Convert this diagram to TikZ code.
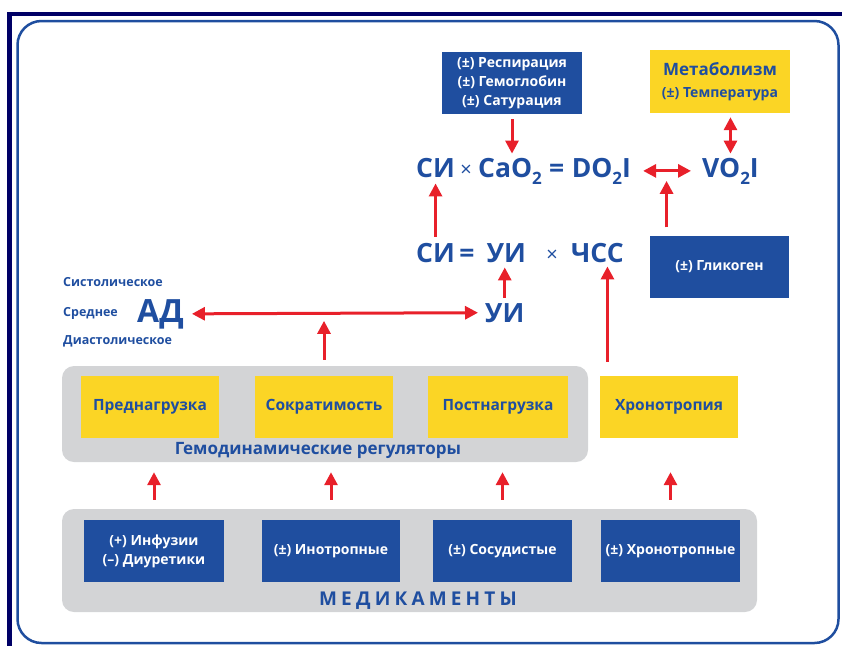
\documentclass[tikz,border=0pt]{standalone}
\usepackage{fontspec}
\setmainfont{Open Sans}
\newfontfamily\spacedfont[LetterSpace=22]{Open Sans}
\usetikzlibrary{positioning,arrows.meta,calc}
\definecolor{navy}{HTML}{000066}
\definecolor{boxblue}{HTML}{1F4E9F}
\definecolor{txtblue}{HTML}{1F4EA0}
\definecolor{gold}{HTML}{FBD525}
\definecolor{panel}{HTML}{D3D4D6}
\definecolor{arrred}{HTML}{E8202A}
\newcommand\lowtwo{\raisebox{-7pt}{\fontsize{17}{17}\selectfont 2}}
\newcommand\timessign{{\mdseries\fontsize{20}{20}\selectfont\raisebox{1pt}{×}}}
\begin{document}
\begin{tikzpicture}[x=1pt,y=-1pt,
  bluebox/.style={fill=boxblue,text=white,font=\bfseries\fontsize{14}{19}\selectfont,align=center,minimum width=140pt,minimum height=62pt,inner sep=0pt},
  yellowbox/.style={fill=gold,text=txtblue,font=\bfseries\fontsize{15.5}{20}\selectfont,align=center,minimum width=138pt,minimum height=62pt,inner sep=0pt},
  panelbox/.style={fill=panel,rounded corners=12pt,inner sep=0pt},
  eqn/.style={text=txtblue,font=\bfseries\fontsize{26.5}{30}\selectfont,inner sep=0pt,anchor=base west},
  sidelabel/.style={text=txtblue,font=\bfseries\fontsize{12.5}{14}\selectfont,inner sep=0pt,anchor=base west},
  redarrow/.style={draw=arrred,line width=3pt,-{Triangle[length=13pt,width=13pt]}},
  bothway/.style={draw=arrred,line width=3pt,{Triangle[length=13pt,width=13pt]}-{Triangle[length=13pt,width=13pt]}}]

\useasboundingbox (0,0) rectangle (842,646);
% frame
\fill[navy] (7,12) rectangle (842,16);
\fill[navy] (7,12) rectangle (12,646);
\draw[boxblue,line width=2.5pt,rounded corners=24pt] (17.5,21) rectangle (838.5,643);

% grey panels
\node[panelbox,minimum width=526pt,minimum height=96pt] (hemo) at (325,414) {};
\node[panelbox,minimum width=695pt,minimum height=103pt] (meds) at (409.5,560.5) {};

% regulators
\node[yellowbox] (pre) at (150,407) {Преднагрузка};
\node[yellowbox] (contr) at (324,407) {Сократимость};
\node[yellowbox,minimum width=140pt] (post) at (498,407) {Постнагрузка};
\node[yellowbox] (chrono) at (669,407) {Хронотропия};
\node[text=txtblue,font=\bfseries\fontsize{17}{18}\selectfont] (hemolbl) at (318,450) {Гемодинамические регуляторы};

% drugs
\node[bluebox] (inf) at (154,551) {(+) Инфузии\\(--) Диуретики};
\node[bluebox,minimum width=138pt] (ino) at (331,551) {(±) Инотропные};
\node[bluebox,minimum width=139pt] (vas) at (502.5,551) {(±) Сосудистые};
\node[bluebox,minimum width=139pt] (chrmed) at (670.5,551) {(±) Хронотропные};
\node[text=txtblue,font=\spacedfont\bfseries\fontsize{19}{22}\selectfont] (medlbl) at (418,601) {МЕДИКАМЕНТЫ};

% top boxes
\node[bluebox] (resp) at (512,83) {(±) Респирация\\(±) Гемоглобин\\(±) Сатурация};
\node[yellowbox,minimum width=140pt,minimum height=63pt,font=\bfseries\fontsize{14}{22}\selectfont] (meta) at (720,81.5) {{\fontsize{17}{22}\selectfont Метаболизм}\\(±) Температура};
\node[bluebox,minimum width=139pt] (glyc) at (719.5,266.5) {(±) Гликоген};

% equations
\node[eqn] (si1) at (416,177) {СИ};
\node[eqn,base right=5pt of si1] (x1) {\timessign};
\node[eqn,base right=6pt of x1] (cao) {CaO\lowtwo};
\node[eqn,base right=7pt of cao] (eq1) {=};
\node[eqn,base right=7pt of eq1] (do) {DO\lowtwo I};
\node[eqn] (vo) at (702,177) {VO\lowtwo I};

\node[eqn] (si2) at (416,262) {СИ};
\node[eqn,base right=4pt of si2] (eq2) {=};
\node[eqn,base right=12pt of eq2] (ui1) {УИ};
\node[eqn,base right=20pt of ui1] (x2) {\timessign};
\node[eqn,base right=13pt of x2] (chss) {ЧСС};

\node[eqn] (ui2) at (485,322) {УИ};
\node[eqn,font=\bfseries\fontsize{32}{36}\selectfont] (ad) at (137,322) {АД};
\node[sidelabel] (sys) at (63,286) {Систолическое};
\node[sidelabel] (mean) at (63,316) {Среднее};
\node[sidelabel] (dia) at (63,344) {Диастолическое};

% connectors
\coordinate (chssfoot) at ([xshift=10pt]chss.south);
\coordinate (dvmid) at ($(do.east)!0.5!(vo.west)$);
\draw[redarrow,shorten <=5pt,shorten >=4pt] (resp) -- (resp.south |- cao.north);
\draw[bothway,shorten <=12pt,shorten >=11pt] (do.east) -- (vo.west);
\draw[bothway,shorten <=4pt,shorten >=4pt] (meta.south -| vo) -- (vo.north);
\draw[redarrow,shorten <=8pt,shorten >=10pt] (glyc.north -| dvmid) -- (dvmid);
\draw[redarrow,shorten <=6pt,shorten >=6pt] (si2.north) -- (si2.north |- si1.south);
\draw[redarrow,shorten <=5pt,shorten >=5pt] (ui2.north) -- (ui2.north |- ui1.south);
\draw[redarrow,shorten <=14pt,shorten >=4pt] (chssfoot |- chrono.north) -- (chssfoot);
\draw[bothway,shorten <=8pt,shorten >=7pt] (ad.east) -- (ui2.west);
\draw[redarrow,shorten <=6pt,shorten >=7pt] (hemo.north -| contr) -- (ad.east -| contr);
\foreach \drug in {inf,ino,vas,chrmed}
  \draw[redarrow,shorten <=9pt,shorten >=10pt] (meds.north -| \drug) -- (hemo.south -| \drug);
\end{tikzpicture}
\end{document}
